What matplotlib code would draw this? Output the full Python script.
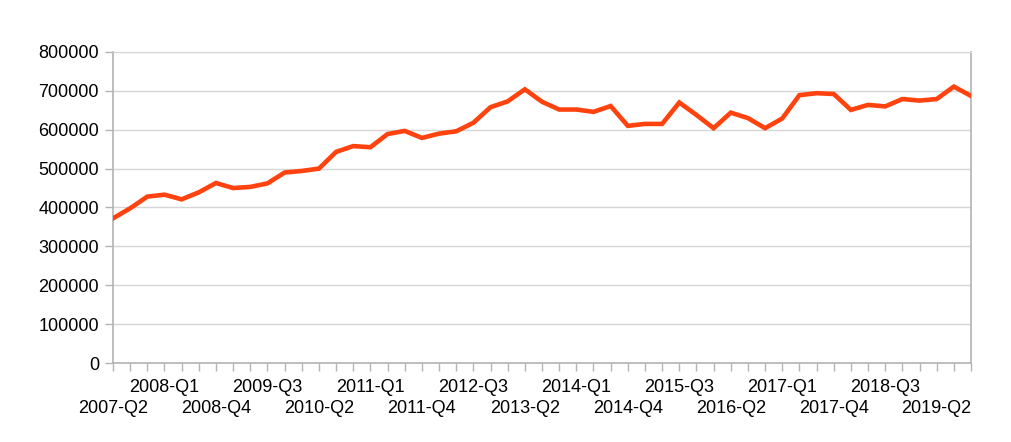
import matplotlib
matplotlib.use('Agg')
import matplotlib.pyplot as plt

plt.rcParams['font.family'] = ['Liberation Sans', 'DejaVu Sans']

# quarterly series, 2007-Q2 .. 2019-Q4
quarters = [f"{y}-Q{q}" for y in range(2007, 2020) for q in range(1, 5)][1:]
values = [
    372000, 398000, 428000, 433000, 421000, 439000, 463000, 450000, 453000, 462000,
    490000, 494000, 500000, 543000, 558000, 555000, 589000, 597000, 579000, 590000,
    596000, 618000, 658000, 673000, 704000, 672000, 652000, 652000, 646000, 661000,
    610000, 615000, 615000, 670000, 638000, 604000, 644000, 630000, 604000, 629000,
    689000, 694000, 692000, 651000, 664000, 660000, 679000, 675000, 679000, 711000,
    687000,
]
yticks = [0, 100000, 200000, 300000, 400000, 500000, 600000, 700000, 800000]

fig = plt.figure(figsize=(10.11, 4.42), dpi=100)
ax = fig.add_axes([113 / 1011, 1 - 363 / 442, 858 / 1011, 311 / 442])

x = list(range(len(values)))
ax.plot(x, values, color='#ff420e', linewidth=3.3, solid_joinstyle='miter', zorder=3)

ax.set_xlim(0, len(values) - 1)
ax.set_ylim(0, 800000)
ax.set_yticks(yticks)
ax.set_yticklabels([str(v) for v in yticks], fontsize=13)

# tick mark at every quarter; labels every third quarter on two rows
top = [q if i % 6 == 3 else "" for i, q in enumerate(quarters[:len(values)])]
bottom_idx = [i for i in x if i % 6 == 0]
ax.set_xticks(x)
ax.set_xticklabels(top, fontsize=13)
ax.xaxis.remove_overlapping_locs = False
ax.set_xticks(bottom_idx, minor=True)
ax.set_xticklabels([quarters[i] for i in bottom_idx], minor=True, fontsize=13)

ax.grid(axis='y', color='#d6d6d6', linewidth=1.0)
ax.set_axisbelow(True)
for side in ['left', 'bottom', 'right']:
    ax.spines[side].set_color('#b3b3b3')
    ax.spines[side].set_linewidth(1.2)
ax.spines['top'].set_color('#d6d6d6')
ax.tick_params(axis='both', which='major', length=6, width=1.0, color='#b3b3b3')
ax.tick_params(axis='y', pad=4)
ax.tick_params(axis='x', which='major', pad=5.5)
ax.tick_params(axis='x', which='minor', length=6, width=0, pad=20.5)

fig.savefig('out.png', dpi=100)
